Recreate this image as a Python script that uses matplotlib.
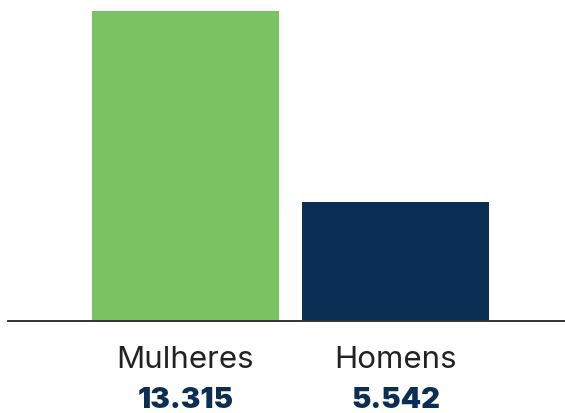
import matplotlib
matplotlib.use("Agg")
import matplotlib.pyplot as plt

categories = ["Mulheres", "Homens"]
values = [13315, 5542]
value_labels = ["13.315", "5.542"]
colors = ["#7AC363", "#0B2E55"]

W, H = 565, 414
fig = plt.figure(figsize=(W / 100, H / 100), dpi=100)
# axes from x=8px to right edge, from y=321px (baseline) to top
ax = fig.add_axes([8 / W, (H - 321.5) / H, (W - 8) / W, 321.5 / H])

x = list(range(len(categories)))
ax.bar(x, values, width=0.89, color=colors)
ax.set_xlim(-0.845, 1.807)
ax.set_ylim(700, 13800)

for s in ["top", "right", "left"]:
    ax.spines[s].set_visible(False)
ax.spines["bottom"].set_color("#333333")
ax.spines["bottom"].set_linewidth(1.4)
ax.set_yticks([])
ax.set_xticks([])

tr = ax.get_xaxis_transform()
for i, (c, v) in enumerate(zip(categories, value_labels)):
    ax.text(i, -38 / 321, c, transform=tr, ha="center", va="center",
            fontsize=22.5, color="#222222", family="Inter")
    ax.text(i, -79 / 321, v, transform=tr, ha="center", va="center",
            fontsize=21, color="#0B2E55", family="Inter", fontweight="black")

fig.savefig("out.png", dpi=100)
